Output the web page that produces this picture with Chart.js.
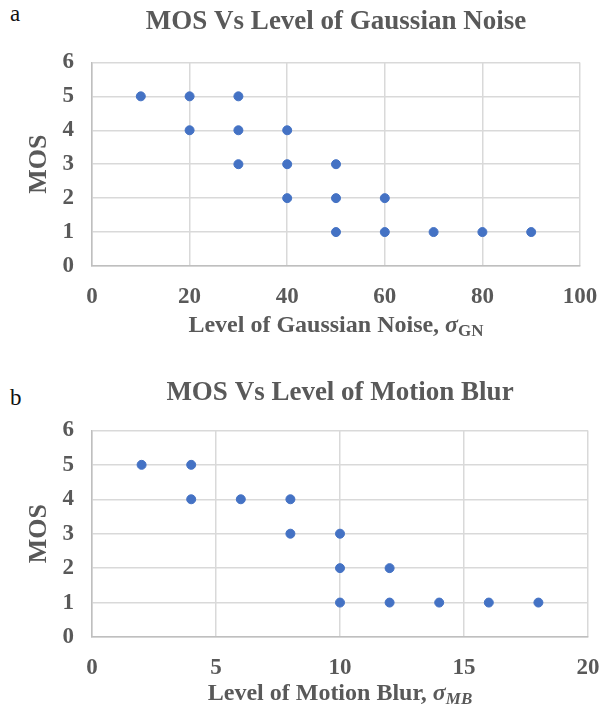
<!DOCTYPE html>
<html>
<head>
<meta charset="utf-8">
<script src="https://cdn.jsdelivr.net/npm/chart.js@4.4.1/dist/chart.umd.min.js"></script>
<style>
  body { margin: 0; background: #fff; }
  .wrap { position: relative; width: 610px; height: 712px; }
  .box { position: absolute; left: 0; width: 610px; height: 356px; }
  .tag { position: absolute; font-family: "Liberation Serif", serif; font-size: 23px; color: #111; }
</style>
</head>
<body>
<div class="wrap">
  <div class="tag" style="left:10px;top:1px;">a</div>
  <div class="box" style="top:0"><canvas id="chartA"></canvas></div>
  <div class="tag" style="left:10px;top:385px;">b</div>
  <div class="box" style="top:356px"><canvas id="chartB"></canvas></div>
</div>
<script>
// chart a: MOS vs gaussian noise level
const noiseLevel = [10, 20, 30, 20, 30, 40, 30, 40, 50, 40, 50, 60, 50, 60, 70, 80, 90];
const noiseMos   = [5, 5, 5, 4, 4, 4, 3, 3, 3, 2, 2, 2, 1, 1, 1, 1, 1];
const noiseTicks = [0, 20, 40, 60, 80, 100];

// chart b: MOS vs motion blur level
const blurLevel = [2, 4, 4, 6, 8, 8, 10, 10, 12, 10, 12, 14, 16, 18];
const blurMos   = [5, 5, 4, 4, 4, 3, 3, 2, 2, 1, 1, 1, 1, 1];
const blurTicks = [0, 5, 10, 15, 20];

const mosTicks = [0, 1, 2, 3, 4, 5, 6];

const textCol = "#595959";
const serif = "'Liberation Serif', 'Times New Roman', serif";

// x axis title drawn by hand so the sigma can carry a subscript
function subTitlePlugin(main, sub, subItalic, yOff) {
    return {
        id: 'subTitle',
        afterDraw(chart) {
            const ctx = chart.ctx;
            const area = chart.chartArea;
            const cx = (area.left + area.right) / 2;
            const y = area.bottom + yOff;
            const f1 = "bold 24px " + serif;
            const f2 = "bold italic 24px " + serif;
            const f3 = (subItalic ? "bold italic " : "bold ") + "17px " + serif;
            ctx.save();
            ctx.fillStyle = textCol;
            ctx.textBaseline = 'alphabetic';
            ctx.font = f1; const w1 = ctx.measureText(main).width;
            ctx.font = f2; const w2 = ctx.measureText("σ").width;
            ctx.font = f3; const w3 = ctx.measureText(sub).width;
            let x = cx - (w1 + w2 + w3) / 2;
            ctx.textAlign = 'left';
            ctx.font = f1; ctx.fillText(main, x, y); x += w1;
            ctx.font = f2; ctx.fillText("σ", x, y); x += w2;
            ctx.font = f3; ctx.fillText(sub, x, y + 4);
            ctx.restore();
        }
    };
}

function makeChart(id, xs, ys, xTicks, title, titlePad, padRight, axisH, main, sub, subItalic, titleOff) {
    const pts = xs.map((x, i) => ({ x: x, y: ys[i] }));
    new Chart(document.getElementById(id), {
        type: 'scatter',
        data: {
            datasets: [{
                data: pts,
                backgroundColor: "#4472C4",
                borderColor: "#4472C4",
                pointRadius: 4.5,
                pointHoverRadius: 4.5
            }]
        },
        options: {
            responsive: false,
            animation: false,
            maintainAspectRatio: false,
            layout: { padding: { left: 0, right: padRight, top: 0, bottom: 0 } },
            plugins: {
                legend: { display: false },
                tooltip: { enabled: false },
                title: {
                    display: true,
                    text: title,
                    fullSize: false,
                    color: textCol,
                    font: { family: serif, size: 27, weight: 'bold', lineHeight: 1.2 },
                    padding: titlePad
                }
            },
            scales: {
                x: {
                    type: 'linear',
                    min: xTicks[0],
                    max: xTicks[xTicks.length - 1],
                    afterBuildTicks: (s) => { s.ticks = xTicks.map(v => ({ value: v })); },
                    afterFit: (s) => { s.height = axisH; s.paddingLeft = 0; s.paddingRight = 0; },
                    grid: { color: "#d9d9d9", lineWidth: 1.5, drawTicks: false },
                    border: { color: "#bfbfbf", width: 1.5 },
                    ticks: { color: textCol, padding: 17, font: { family: serif, size: 23, weight: 'bold' } }
                },
                y: {
                    min: 0,
                    max: 6,
                    afterBuildTicks: (s) => { s.ticks = mosTicks.map(v => ({ value: v })); },
                    afterFit: (s) => { s.width = 92; s.paddingTop = 0; s.paddingBottom = 0; },
                    grid: { color: "#d9d9d9", lineWidth: 1.5, drawTicks: false },
                    border: { color: "#bfbfbf", width: 1.5 },
                    ticks: { color: textCol, padding: 18, font: { family: serif, size: 23, weight: 'bold' } },
                    title: {
                        display: true,
                        text: "MOS",
                        color: textCol,
                        font: { family: serif, size: 26, weight: 'bold', lineHeight: 1.2 },
                        padding: { top: 24, bottom: 0 }
                    }
                }
            }
        },
        plugins: [subTitlePlugin(main, sub, subItalic, titleOff)]
    });
}

const cA = document.getElementById('chartA');
cA.width = 610; cA.height = 356;
const cB = document.getElementById('chartB');
cB.width = 610; cB.height = 356;

makeChart('chartA', noiseLevel, noiseMos, noiseTicks, "MOS Vs Level of Gaussian Noise",
    { top: 6, bottom: 24 }, 30, 90, "Level of Gaussian Noise, ", "GN", false, 66);
makeChart('chartB', blurLevel, blurMos, blurTicks, "MOS Vs Level of Motion Blur",
    { top: 21, bottom: 21 }, 22, 75, "Level of Motion Blur, ", "MB", true, 63);
</script>
</body>
</html>
